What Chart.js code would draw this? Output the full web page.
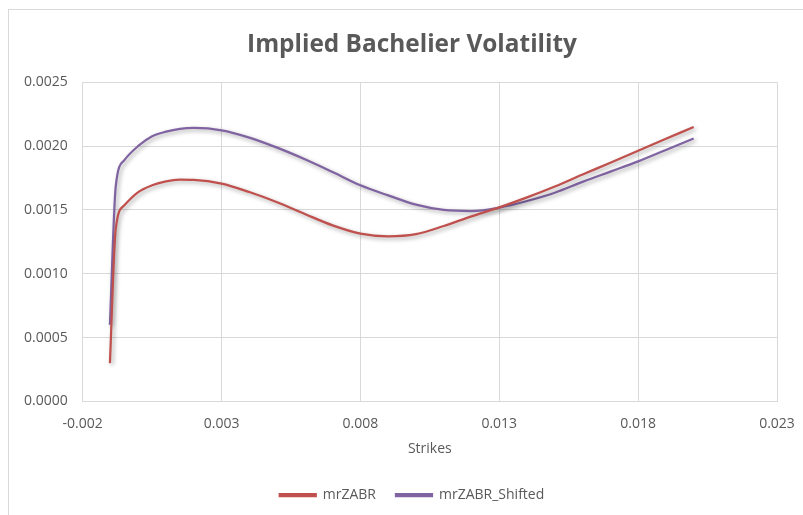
<!DOCTYPE html>
<html>
<head>
<meta charset="utf-8">
<script src="https://cdn.jsdelivr.net/npm/chart.js@4/dist/chart.umd.min.js"></script>
<style>
  html, body { margin: 0; padding: 0; background: #fff; }
  #wrap { position: relative; width: 803px; height: 515px; overflow: hidden; }
  #frame { position: absolute; left: 8px; top: 9px; width: 900px; height: 600px;
           border-left: 1px solid #d9d9d9; border-top: 1px solid #d9d9d9; }
  canvas { position: absolute; left: 0; top: 0; }
</style>
</head>
<body>
<div id="wrap">
  <div id="frame"></div>
  <!-- the chart frame runs past the right edge of the window -->
  <canvas id="chart" width="815" height="515"></canvas>
</div>
<script>
const strikes = [-0.00102, -0.00081, -0.0005, 0.0, 0.0005, 0.001, 0.0015, 0.002, 0.003, 0.004, 0.005,
  0.006, 0.007, 0.008, 0.009, 0.010, 0.011, 0.012, 0.013, 0.014, 0.015, 0.016, 0.017, 0.018, 0.019, 0.020];
const mrZABR = [0.00030, 0.001353, 0.001536, 0.00164, 0.001693, 0.001724, 0.001737, 0.001735, 0.001706, 0.00164, 0.00156,
  0.001468, 0.001379, 0.001314, 0.001293, 0.00131, 0.001374, 0.00145, 0.00152, 0.001598, 0.001683, 0.001777, 0.00187, 0.001964, 0.002057, 0.00215];
const mrZABRShifted = [0.00060, 0.001685, 0.00189, 0.002001, 0.002077, 0.002113, 0.002135, 0.002142, 0.002124, 0.002067, 0.001988,
  0.001897, 0.001797, 0.001693, 0.001614, 0.001541, 0.0015, 0.001491, 0.001518, 0.00157, 0.001635, 0.00172, 0.0018, 0.00188, 0.00197, 0.00206];
const xTicks = [-0.002, 0.003, 0.008, 0.013, 0.018, 0.023];
const yTicks = [0, 0.0005, 0.001, 0.0015, 0.002, 0.0025];

const toPoints = (ys) => strikes.map((x, i) => ({ x: x, y: ys[i] }));

// soft drop shadow under both curves
const lineShadow = {
  id: 'lineShadow',
  beforeDatasetsDraw(chart) {
    const c = chart.ctx;
    c.save();
    c.shadowColor = 'rgba(0,0,0,0.35)';
    c.shadowBlur = 4;
    c.shadowOffsetX = 2;
    c.shadowOffsetY = 2;
  },
  afterDatasetsDraw(chart) {
    chart.ctx.restore();
  }
};

const grey = '#595959';
const gridColor = '#d9d9d9';

new Chart(document.getElementById('chart'), {
  type: 'scatter',
  data: {
    datasets: [
      {
        label: 'mrZABR',
        data: toPoints(mrZABR),
        borderColor: '#c0504d',
        backgroundColor: '#c0504d',
        borderWidth: 2.25,
        showLine: true,
        pointRadius: 0,
        cubicInterpolationMode: 'monotone'
      },
      {
        label: 'mrZABR_Shifted',
        data: toPoints(mrZABRShifted),
        borderColor: '#8064a2',
        backgroundColor: '#8064a2',
        borderWidth: 2.25,
        showLine: true,
        pointRadius: 0,
        cubicInterpolationMode: 'monotone'
      }
    ]
  },
  options: {
    responsive: false,
    animation: false,
    layout: { padding: { left: 9, right: 0, top: 20, bottom: 3 } },
    plugins: {
      title: {
        display: true,
        text: 'Implied Bachelier Volatility',
        color: grey,
        font: { family: 'Open Sans', size: 24.4, weight: 'bold' },
        padding: { top: 10, bottom: 23 }
      },
      legend: {
        position: 'bottom',
        labels: {
          color: grey,
          font: { family: 'Open Sans', size: 14 },
          boxWidth: 36,
          boxHeight: 2,
          padding: 20
        }
      },
      tooltip: { enabled: false }
    },
    scales: {
      x: {
        type: 'linear',
        min: -0.002,
        max: 0.023,
        afterBuildTicks: (s) => { s.ticks = xTicks.map(v => ({ value: v })); },
        grid: { color: gridColor, drawTicks: false },
        border: { color: gridColor },
        ticks: {
          color: grey,
          font: { family: 'Open Sans', size: 14 },
          padding: 14,
          maxRotation: 0,
          callback: (v) => v.toFixed(3)
        },
        title: {
          display: true,
          text: 'Strikes',
          color: grey,
          font: { family: 'Open Sans', size: 14 },
          padding: { top: -6, bottom: 11 }
        }
      },
      y: {
        min: 0,
        max: 0.0025,
        afterBuildTicks: (s) => { s.ticks = yTicks.map(v => ({ value: v })); },
        grid: { color: gridColor, drawTicks: false },
        border: { color: gridColor },
        ticks: {
          color: grey,
          font: { family: 'Open Sans', size: 14 },
          padding: 15,
          callback: (v) => v.toFixed(4)
        }
      },
      // empty right-hand margin inside the frame
      yRight: {
        type: 'linear',
        position: 'right',
        grid: { display: false, drawTicks: false },
        border: { display: false },
        ticks: { display: false },
        afterFit: (s) => { s.width = 38; }
      }
    }
  },
  plugins: [lineShadow]
});
</script>
</body>
</html>
